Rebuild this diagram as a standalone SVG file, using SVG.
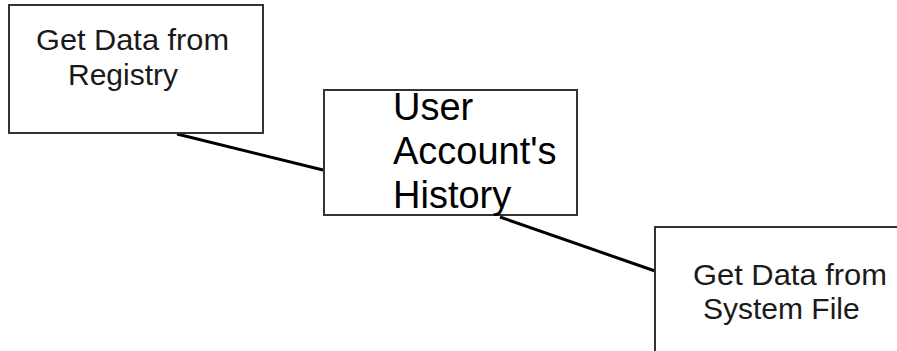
<svg xmlns="http://www.w3.org/2000/svg" width="897" height="351" viewBox="0 0 897 351">
  <style>
    .box { fill: #ffffff; stroke: #333333; stroke-width: 2; }
    .label { font-family: "Liberation Sans", Arial, sans-serif; font-size: 30px; fill: #1a1a1a; }
    .title { font-family: "Liberation Sans", Arial, sans-serif; font-size: 38px; fill: #000000; }
    .link { stroke: #000000; stroke-width: 3; fill: none; }
  </style>
  <rect width="897" height="351" fill="#ffffff"/>

  <g id="connectors">
    <line class="link" x1="177" y1="134" x2="323" y2="170"/>
    <line class="link" x1="500" y1="217" x2="655" y2="271"/>
  </g>

  <g id="registry">
    <rect class="box" x="9" y="5" width="254" height="128"/>
    <text class="label" x="36" y="50" textLength="193" lengthAdjust="spacingAndGlyphs">Get Data from</text>
    <text class="label" x="68" y="85">Registry</text>
  </g>

  <g id="history">
    <rect class="box" x="324" y="90" width="253" height="125"/>
    <text class="title" x="393" y="120">User</text>
    <text class="title" x="393" y="164">Account's</text>
    <text class="title" x="393" y="208">History</text>
  </g>

  <g id="system-file">
    <rect class="box" x="655" y="227" width="254" height="128"/>
    <text class="label" x="693" y="285" textLength="194" lengthAdjust="spacingAndGlyphs">Get Data from</text>
    <text class="label" x="703" y="319">System File</text>
  </g>
</svg>
